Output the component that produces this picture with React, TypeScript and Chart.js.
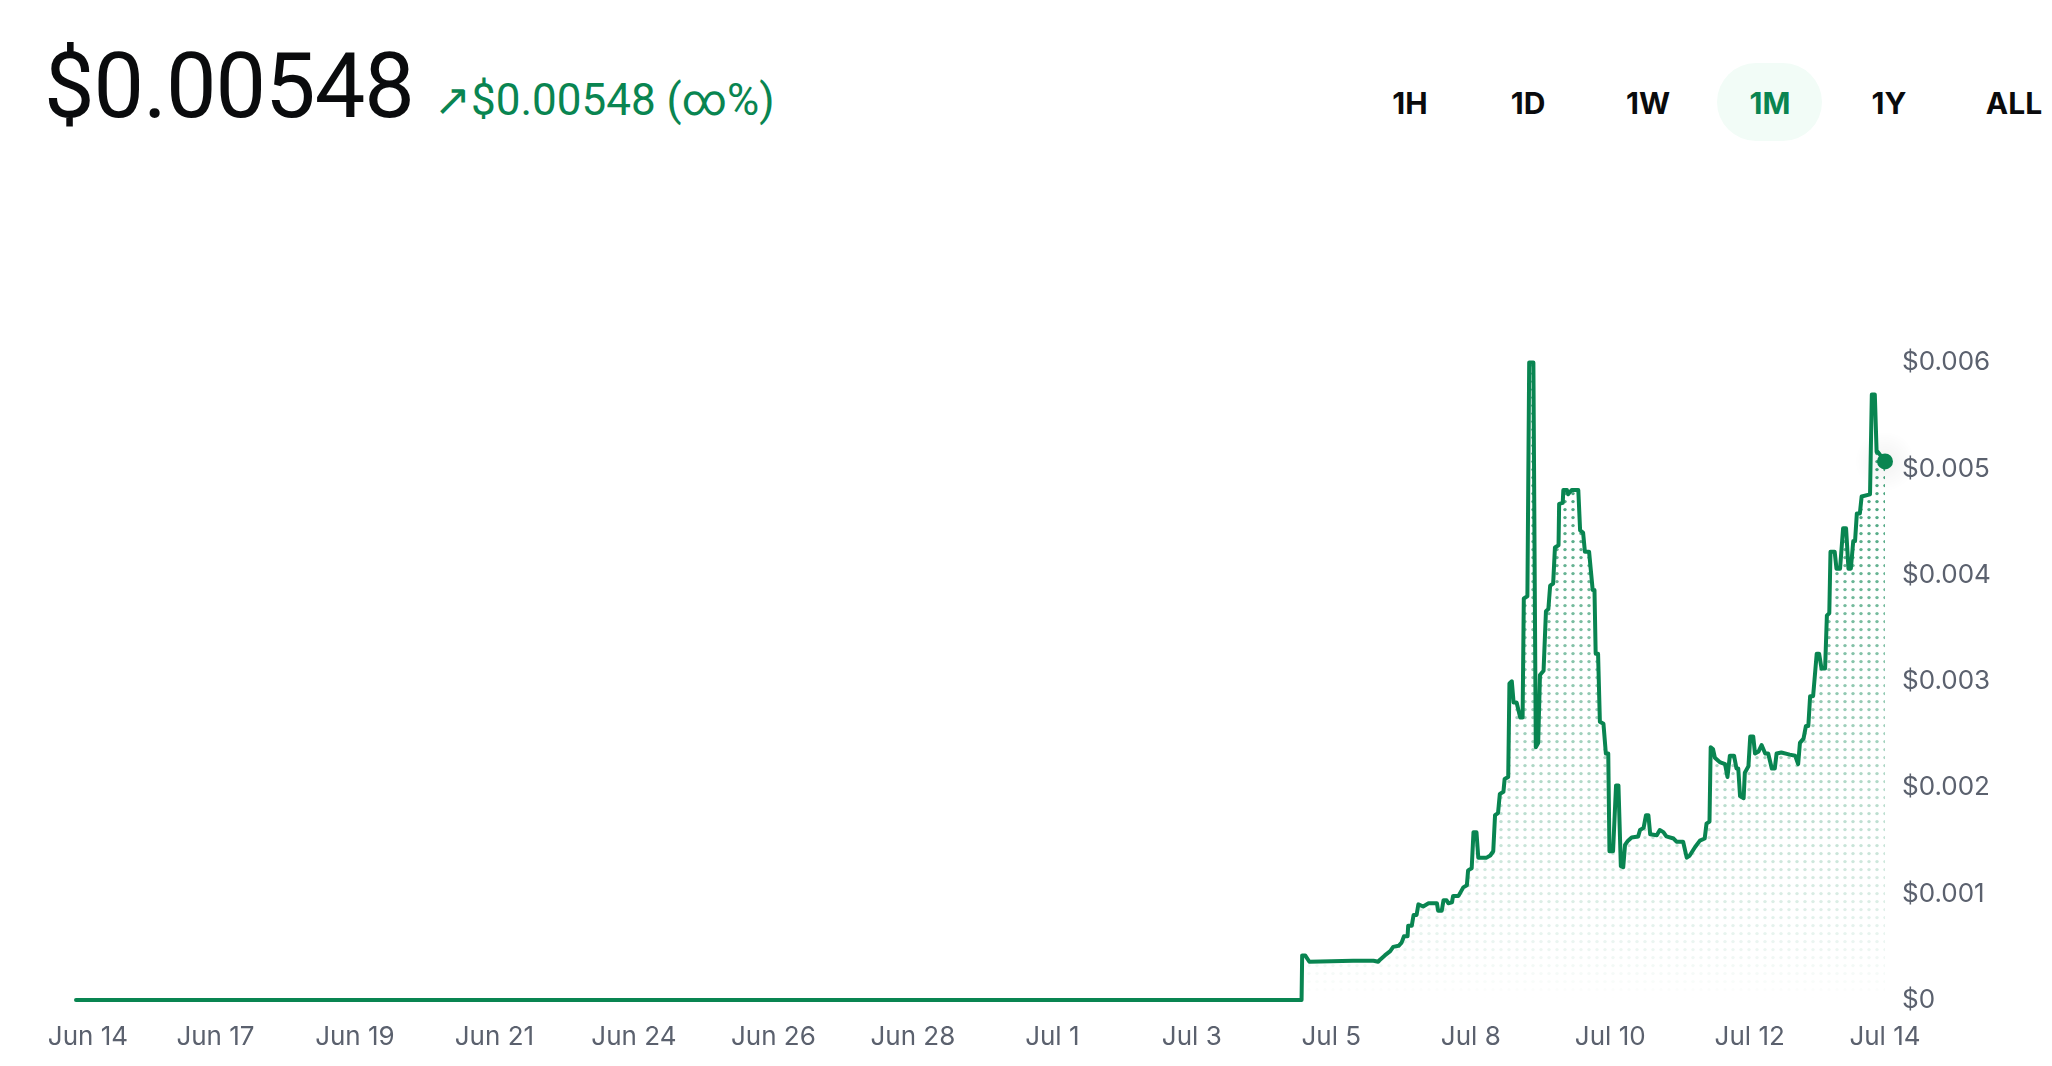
import React, { useEffect, useRef } from 'react';
import { Chart, registerables } from 'chart.js';

Chart.register(...registerables);

// ---- data (x = days since Jun 14) ----
const days = [
  -0.2, 20.26, 20.27, 20.32, 20.39, 21.12, 21.46, 21.54, 21.57, 21.65, 21.74, 21.79, 21.88, 21.93, 21.97,
  22.03, 22.04, 22.1, 22.13, 22.18, 22.21, 22.29, 22.38, 22.52, 22.54, 22.6, 22.63, 22.68, 22.71, 22.77,
  22.79, 22.88, 22.96, 23.02, 23.04, 23.1, 23.13, 23.18, 23.21, 23.35, 23.41, 23.46, 23.49, 23.54, 23.57,
  23.63, 23.65, 23.71, 23.73, 23.77, 23.8, 23.85, 23.91, 23.95, 23.97, 24.03, 24.06, 24.13, 24.17, 24.21,
  24.24, 24.3, 24.34, 24.38, 24.41, 24.46, 24.49, 24.55, 24.56, 24.62, 24.63, 24.69, 24.71, 24.77, 24.88,
  24.91, 24.96, 24.99, 25.06, 25.12, 25.15, 25.17, 25.21, 25.24, 25.3, 25.34, 25.38, 25.4, 25.46, 25.51,
  25.55, 25.59, 25.63, 25.66, 25.71, 25.77, 25.88, 25.91, 25.97, 26.01, 26.05, 26.08, 26.19, 26.24, 26.3,
  26.35, 26.47, 26.52, 26.63, 26.69, 26.74, 26.83, 26.91, 26.99, 27.02, 27.07, 27.09, 27.13, 27.16, 27.24,
  27.33, 27.37, 27.41, 27.48, 27.52, 27.55, 27.58, 27.64, 27.66, 27.72, 27.75, 27.8, 27.83, 27.89, 27.94,
  28.0, 28.05, 28.11, 28.16, 28.19, 28.27, 28.41, 28.5, 28.55, 28.58, 28.64, 28.68, 28.72, 28.75, 28.8,
  28.86, 28.9, 28.94, 29.0, 29.03, 29.07, 29.09, 29.16, 29.19, 29.25, 29.3, 29.35, 29.39, 29.43, 29.47,
  29.5, 29.53, 29.58, 29.61, 29.75, 29.78, 29.83, 29.86, 29.88, 30.0,
];

const prices = [
  0, 0, 0.00042, 0.00042, 0.00036, 0.00037, 0.00037, 0.00036, 0.00038, 0.00042, 0.00046, 0.0005, 0.00051, 0.00054, 0.0006,
  0.0006, 0.0007, 0.0007, 0.0008, 0.0008, 0.0009, 0.00088, 0.00091, 0.00091, 0.00084, 0.00084, 0.00094, 0.00094, 0.00091, 0.00092,
  0.00098, 0.00098, 0.00106, 0.00108, 0.00122, 0.00124, 0.00158, 0.00158, 0.00134, 0.00134, 0.00136, 0.0014, 0.00174, 0.00176, 0.00194,
  0.00196, 0.00208, 0.0021, 0.00298, 0.003, 0.0028, 0.0028, 0.00266, 0.00266, 0.00378, 0.0038, 0.006, 0.006, 0.00238, 0.00242,
  0.00306, 0.0031, 0.00366, 0.00368, 0.0039, 0.00392, 0.00426, 0.00428, 0.00467, 0.00468, 0.0048, 0.0048, 0.00476, 0.0048, 0.0048,
  0.00442, 0.0044, 0.00422, 0.00422, 0.00386, 0.00386, 0.00326, 0.00326, 0.00262, 0.0026, 0.00232, 0.00232, 0.0014, 0.0014, 0.00202,
  0.00202, 0.00126, 0.00125, 0.00146, 0.0015, 0.00153, 0.00154, 0.0016, 0.00162, 0.00174, 0.00174, 0.00156, 0.00155, 0.0016, 0.00158,
  0.00154, 0.00152, 0.00149, 0.00149, 0.00134, 0.00136, 0.00144, 0.0015, 0.00152, 0.00166, 0.00168, 0.00238, 0.00236, 0.00228, 0.00224,
  0.00222, 0.0021, 0.0023, 0.0023, 0.00218, 0.00218, 0.00192, 0.0019, 0.00214, 0.0022, 0.00248, 0.00248, 0.00232, 0.00234, 0.0024,
  0.00232, 0.00232, 0.00218, 0.00218, 0.00232, 0.00233, 0.00231, 0.0023, 0.00222, 0.00242, 0.00246, 0.00258, 0.00258, 0.00286, 0.00286,
  0.00326, 0.00326, 0.00312, 0.00312, 0.00362, 0.00364, 0.00422, 0.00422, 0.00406, 0.00406, 0.00444, 0.00444, 0.00406, 0.00406, 0.00432,
  0.00432, 0.00458, 0.00458, 0.00474, 0.00476, 0.0057, 0.0057, 0.00516, 0.00516, 0.00507,
];

const xTickLabels = [
  'Jun 14', 'Jun 17', 'Jun 19', 'Jun 21', 'Jun 24', 'Jun 26', 'Jun 28',
  'Jul 1', 'Jul 3', 'Jul 5', 'Jul 8', 'Jul 10', 'Jul 12', 'Jul 14',
];
const yTickValues = [0, 0.001, 0.002, 0.003, 0.004, 0.005, 0.006];

const currentPrice = '$0.00548';
const changeText = '↗$0.00548 (∞%)';
const ranges = ['1H', '1D', '1W', '1M', '1Y', 'ALL'];
const activeRange = '1M';

// ---- layout ----
const GREEN = '#098551';
const GRAY = '#5b616e';
const INK = '#0a0b0d';
const tabCenters = [1410, 1528, 1648, 1770, 1889, 2014];
const X_MIN = -0.2;
const X_MAX = 30;
const TICK_START = -0.2; // evenly spaced tick slots, labels kept inside the plot
const TICK_END = 30.07;

export default function App() {
  const ref = useRef<HTMLCanvasElement>(null);

  useEffect(() => {
    const canvas = ref.current;
    if (!canvas) return;
    let cache: { key: string; pat: CanvasPattern | null } = { key: '', pat: null };

    const makePattern = (chart: any) => {
      const area = chart.chartArea;
      const key = `${chart.width}x${chart.height}-${area.top}-${area.bottom}-${area.left}-${area.right}`;
      if (cache.key === key) return cache.pat;
      const off = document.createElement('canvas');
      off.width = chart.width;
      off.height = chart.height;
      const c = off.getContext('2d')!;
      const step = 8;
      for (let y = area.top + 3; y < area.bottom; y += step) {
        const a = Math.max(0, 0.92 * (area.bottom - y) / (area.bottom - area.top));
        c.fillStyle = `rgba(9,133,81,${a.toFixed(3)})`;
        for (let x = area.left + 1; x <= area.right + 2; x += step) {
          c.beginPath();
          c.arc(x, y, 1.7, 0, Math.PI * 2);
          c.fill();
        }
      }
      const pat = chart.ctx.createPattern(off, 'no-repeat');
      cache = { key, pat };
      return pat;
    };

    const points = days.map((d, i) => ({ x: d, y: prices[i] }));
    const lastIdx = points.length - 1;

    const glow = {
      id: 'glow',
      beforeDatasetsDraw(chart: any) {
        const p = chart.getDatasetMeta(0).data[lastIdx];
        if (!p) return;
        const ctx = chart.ctx;
        ctx.save();
        const g = ctx.createRadialGradient(p.x, p.y, 0, p.x, p.y, 30);
        g.addColorStop(0, 'rgba(0,0,0,0.05)');
        g.addColorStop(1, 'rgba(0,0,0,0)');
        ctx.fillStyle = g;
        ctx.beginPath();
        ctx.arc(p.x, p.y, 30, 0, Math.PI * 2);
        ctx.fill();
        ctx.restore();
      },
    };

    const n = xTickLabels.length - 1;
    const chart = new Chart(canvas, {
      type: 'line',
      data: {
        datasets: [
          {
            data: points,
            borderColor: GREEN,
            borderWidth: 4,
            tension: 0,
            fill: 'origin',
            backgroundColor: (c: any) => {
              const ch = c.chart;
              if (!ch.chartArea) return 'transparent';
              return makePattern(ch);
            },
            pointRadius: (c: any) => (c.dataIndex === lastIdx ? 8 : 0),
            pointBackgroundColor: GREEN,
            pointBorderWidth: 0,
            clip: false,
            borderJoinStyle: 'round',
            borderCapStyle: 'round',
          } as any,
        ],
      },
      options: {
        animation: false,
        responsive: false,
        maintainAspectRatio: false,
        events: [],
        layout: { padding: { top: 20, left: 76, right: 0, bottom: 0 } },
        plugins: { legend: { display: false }, tooltip: { enabled: false } },
        scales: {
          x: {
            type: 'linear',
            min: X_MIN,
            max: X_MAX,
            grid: { display: false, drawTicks: false },
            border: { display: false },
            afterBuildTicks: (axis: any) => {
              axis.ticks = xTickLabels.map((_, i) => ({
                value: Math.min(X_MAX, Math.max(0, TICK_START + (i * (TICK_END - TICK_START)) / n)),
              }));
            },
            afterFit: (axis: any) => {
              axis.height = 66;
            },
            ticks: {
              autoSkip: false,
              maxRotation: 0,
              padding: 22,
              color: GRAY,
              font: { family: 'Inter', size: 26 },
              callback: (_v: any, i: number) => xTickLabels[i],
            },
          },
          y: {
            position: 'right',
            min: 0,
            max: 0.006,
            grid: { display: false, drawTicks: false },
            border: { display: false },
            afterBuildTicks: (axis: any) => {
              axis.ticks = yTickValues.map((v) => ({ value: v }));
            },
            afterFit: (axis: any) => {
              axis.width = 167;
            },
            ticks: {
              padding: 17,
              color: GRAY,
              font: { family: 'Inter', size: 26 },
              callback: (v: any) => (Number(v) === 0 ? '$0' : '$' + Number(v).toFixed(3)),
            },
          },
        },
      } as any,
      plugins: [glow],
    });

    return () => chart.destroy();
  }, []);

  return (
    <div
      style={{
        position: 'fixed',
        left: 0,
        top: 0,
        width: 2052,
        height: 1066,
        background: '#fff',
        overflow: 'hidden',
      }}
    >
      <div
        style={{
          position: 'absolute',
          left: 44,
          top: 42,
          fontFamily: 'Roboto',
          fontSize: 90,
          lineHeight: '90px',
          letterSpacing: -1,
          color: INK,
          whiteSpace: 'nowrap',
        }}
      >
        {currentPrice}
      </div>
      <div
        style={{
          position: 'absolute',
          left: 434,
          top: 78,
          fontFamily: 'Roboto',
          fontSize: 44,
          lineHeight: '44px',
          color: GREEN,
          whiteSpace: 'nowrap',
        }}
      >
        {changeText}
      </div>

      <div
        style={{
          position: 'absolute',
          left: 1717,
          top: 63,
          width: 105,
          height: 78,
          borderRadius: 40,
          background: '#F2FCF7',
        }}
      />
      {ranges.map((r, i) => (
        <div
          key={r}
          style={{
            position: 'absolute',
            left: tabCenters[i],
            top: 88,
            transform: 'translateX(-50%)',
            fontFamily: 'Inter',
            fontWeight: 700,
            fontSize: 30,
            lineHeight: '30px',
            color: r === activeRange ? GREEN : INK,
            whiteSpace: 'nowrap',
          }}
        >
          {r}
        </div>
      ))}

      <div style={{ position: 'absolute', left: 0, top: 330, width: 2052, height: 736 }}>
        <canvas ref={ref} width={2052} height={736} style={{ display: 'block', width: 2052, height: 736 }} />
      </div>
    </div>
  );
}
